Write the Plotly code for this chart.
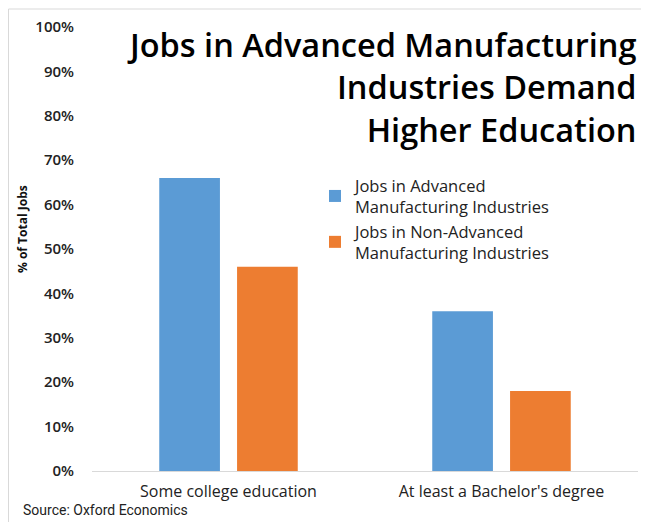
import plotly.graph_objects as go

categories = ["Some college education", "At least a Bachelor's degree"]
advanced = [0.66, 0.36]
non_advanced = [0.46, 0.18]
series_names = ["Jobs in Advanced<br>Manufacturing Industries",
                "Jobs in Non-Advanced<br>Manufacturing Industries"]
tick_vals = [i / 10 for i in range(11)]
tick_text = [f"{i*10}%" for i in range(11)]

font_family = "'Open Sans', Lato, sans-serif"

W, H = 641, 514
L, R, T, B = 84, 11, 19, 51
PW, PH = W - L - R, H - T - B

fig = go.Figure()
fig.add_trace(go.Bar(x=categories, y=advanced, name=series_names[0],
                     marker=dict(color="#5B9BD5", line=dict(width=0))))
fig.add_trace(go.Bar(x=categories, y=non_advanced, name=series_names[1],
                     marker=dict(color="#ED7D31", line=dict(width=0))))

fig.update_layout(
    width=W, height=H,
    margin=dict(l=L, r=R, t=T, b=B, autoexpand=False),
    paper_bgcolor="white", plot_bgcolor="white",
    barmode="group", bargap=0.43, bargroupgap=0.22,
    font=dict(family=font_family, color="#222222"),
    showlegend=True,
    legend=dict(x=(307 - L) / PW, y=1 - (160 - T) / PH, xanchor="left", yanchor="top",
                font=dict(size=16.5, color="#222222"),
                itemsizing="constant", tracegroupgap=2,
                bgcolor="rgba(0,0,0,0)"),
    annotations=[
        dict(text="Jobs in Advanced Manufacturing<br>Industries Demand<br>Higher Education",
             xref="paper", yref="paper", x=(630 - L) / PW, y=1 + (T - 12) / PH,
             xanchor="right", yanchor="top",
             align="right", showarrow=False,
             font=dict(size=32.5, color="#000000", family=font_family, weight=600)),
        dict(text="Source: Oxford Economics", xref="paper", yref="paper",
             x=(13 - L) / PW, y=-(492 - (H - B)) / PH, xanchor="left", yanchor="top",
             showarrow=False,
             font=dict(size=14, color="#222222", family="'Liberation Sans Narrow', 'Roboto', sans-serif")),
        dict(text="<b>% of Total Jobs</b>", xref="paper", yref="paper",
             x=(14 - L) / PW, y=1 - (221 - T) / PH, xanchor="center", yanchor="middle",
             textangle=-90, showarrow=False,
             font=dict(size=12, color="#111111", family=font_family)),
    ],
    shapes=[
        dict(type="line", xref="paper", yref="paper",
             x0=(0.5 - L) / PW, x1=(0.5 - L) / PW, y0=-B / PH, y1=1 + (T - 1) / PH,
             line=dict(color="#d9d9d9", width=1)),
        dict(type="line", xref="paper", yref="paper",
             x0=(0.5 - L) / PW, x1=(W - L) / PW, y0=1 + (T - 1) / PH, y1=1 + (T - 1) / PH,
             line=dict(color="#d9d9d9", width=1)),
    ],
)
fig.update_xaxes(showline=True, linecolor="#d9d9d9", ticks="",
                 ticklabelstandoff=6,
                 tickfont=dict(size=16, color="#222222"), showgrid=False)
fig.update_yaxes(range=[0, 1], tickvals=tick_vals, ticktext=tick_text,
                 showgrid=False, zeroline=False, showline=False,
                 ticklabelstandoff=17,
                 tickfont=dict(size=15, color="#222222", weight=600))

fig.write_html("out.html")
